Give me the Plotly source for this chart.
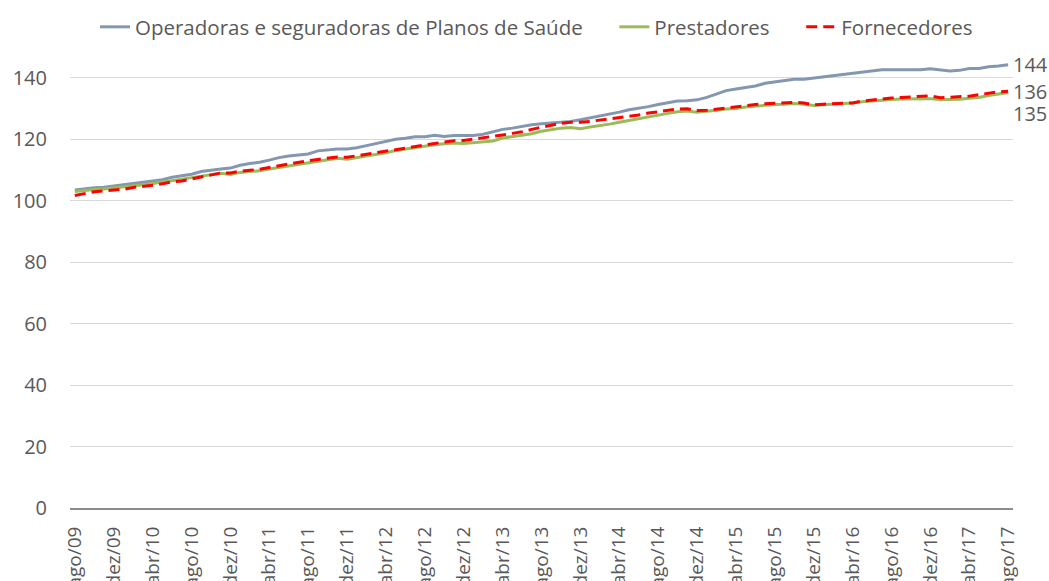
import plotly.graph_objects as go

months_pt = ["jan", "fev", "mar", "abr", "mai", "jun", "jul", "ago", "set", "out", "nov", "dez"]
categories = []
for yr in range(2009, 2018):
    for mi, m in enumerate(months_pt):
        if (yr == 2009 and mi < 7) or (yr == 2017 and mi > 7):
            continue
        categories.append(f"{m}/{str(yr)[2:]}")

tick_labels = categories[::4]

operadoras = [
    103.5, 103.9, 104.2, 104.4, 104.8, 105.1, 105.4, 105.8, 106.2, 106.8,
    107.6, 108.2, 108.6, 109.5, 110.0, 110.3, 110.6, 111.5, 112.1, 112.5,
    113.2, 114.0, 114.5, 114.8, 115.2, 116.2, 116.5, 116.8, 116.8, 117.2,
    117.9, 118.6, 119.5, 120.0, 120.3, 120.8, 120.8, 121.3, 120.9, 121.2,
    121.2, 121.2, 121.6, 122.3, 123.2, 123.6, 124.2, 124.7, 125.0, 125.2,
    125.4, 125.8, 126.3, 126.9, 127.5, 128.2, 128.8, 129.6, 130.0, 130.6,
    131.3, 131.8, 132.4, 132.5, 132.8, 133.6, 134.8, 135.8, 136.3, 136.9,
    137.3, 138.2, 138.6, 139.2, 139.5, 139.5, 139.9, 140.2, 140.7, 141.0,
    141.4, 141.8, 142.1, 142.6, 142.6, 142.6, 142.6, 142.6, 142.9, 142.6,
    142.2, 142.4, 143.0, 143.0, 143.6, 143.8, 144.2,
]

prestadores = [
    103.0, 103.4, 103.6, 103.8, 104.1, 104.5, 104.8, 105.2, 105.6, 106.0,
    106.5, 107.0, 107.5, 108.0, 108.5, 108.9, 108.5, 109.2, 109.5, 109.7,
    110.3, 110.8, 111.3, 111.7, 112.1, 112.6, 113.1, 113.8, 113.5, 114.0,
    114.6, 115.2, 115.6, 116.3, 116.8, 117.4, 117.8, 118.2, 118.5, 118.8,
    118.6, 118.8, 119.1, 119.4, 120.4, 120.8, 121.4, 121.8, 122.6, 123.2,
    123.6, 123.8, 123.4, 124.0, 124.4, 124.9, 125.5, 126.1, 126.7, 127.4,
    128.0, 128.4, 128.9, 129.2, 128.8, 129.0, 129.4, 129.8, 130.0, 130.5,
    130.8, 131.0, 131.3, 131.4, 131.6, 131.4, 131.0, 131.2, 131.4, 131.5,
    131.8, 132.2, 132.5, 132.8, 132.9, 133.1, 133.2, 133.3, 133.2, 132.8,
    132.8, 133.0, 133.3, 133.6, 134.2, 134.8, 135.2,
]

fornecedores = [
    101.7, 102.4, 102.9, 103.2, 103.5, 103.7, 104.3, 104.6, 105.0, 105.5,
    106.1, 106.4, 107.0, 107.6, 108.3, 109.0, 109.0, 109.6, 109.9, 110.2,
    110.8, 111.4, 111.9, 112.4, 113.0, 113.4, 113.8, 114.2, 114.1, 114.6,
    115.1, 115.6, 116.1, 116.8, 117.3, 117.8, 118.1, 118.6, 119.1, 119.5,
    119.6, 120.0, 120.4, 120.9, 121.4, 121.9, 122.4, 123.2, 123.9, 124.6,
    125.2, 125.5, 125.5, 125.8, 126.2, 126.7, 127.1, 127.5, 127.9, 128.5,
    129.0, 129.4, 129.8, 129.9, 129.3, 129.4, 129.8, 130.2, 130.6, 131.0,
    131.3, 131.5, 131.7, 131.9, 132.0, 131.8, 131.2, 131.4, 131.5, 131.6,
    131.8, 132.4, 132.8, 133.2, 133.4, 133.6, 133.8, 134.0, 134.1, 133.5,
    133.6, 133.8, 134.0, 134.5, 135.0, 135.4, 135.6,
]

series_names = ["Operadoras e seguradoras de Planos de Saúde", "Prestadores", "Fornecedores"]
end_labels = ["144", "136", "135"]
y_ticks = [0, 20, 40, 60, 80, 100, 120, 140]

FONT = "Open Sans"
TXT = "#595959"
FS = 20
NB = "\u00a0"

fig = go.Figure()
fig.add_trace(go.Scatter(x=categories, y=operadoras, mode="lines",
                         name=series_names[0] + NB * 5,
                         line=dict(color="#8497B0", width=3)))
fig.add_trace(go.Scatter(x=categories, y=prestadores, mode="lines",
                         name=series_names[1] + NB * 5,
                         line=dict(color="#9BBB59", width=3)))
fig.add_trace(go.Scatter(x=categories, y=fornecedores, mode="lines",
                         name=series_names[2],
                         line=dict(color="#FF0000", width=3, dash="11px,6px")))

last = categories[-1]
for val, txt, ys in [(operadoras[-1], end_labels[0], 0),
                     (fornecedores[-1], end_labels[1], 0),
                     (prestadores[-1], end_labels[2], -21)]:
    fig.add_annotation(x=last, y=val, text=txt, xanchor="left", yanchor="middle",
                       showarrow=False, xshift=3, yshift=ys,
                       font=dict(family=FONT, size=FS, color=TXT))

fig.update_layout(
    width=1049, height=581,
    margin=dict(l=70, r=36, t=47, b=73, autoexpand=False),
    paper_bgcolor="white", plot_bgcolor="white",
    font=dict(family=FONT, size=FS, color=TXT),
    showlegend=True,
    legend=dict(orientation="h", x=0.0265, xanchor="left", y=1.0434, yanchor="middle",
                font=dict(family=FONT, size=20.5, color=TXT),
                itemwidth=30, tracegroupgap=0),
    xaxis=dict(type="category", range=[-0.5, len(categories) - 0.5],
               tickmode="array", tickvals=tick_labels,
               ticktext=tick_labels, tickangle=-90, showgrid=False,
               showline=True, linecolor="#8c8c8c", linewidth=2,
               ticks="", automargin=False, ticklabelstandoff=9,
               tickfont=dict(family=FONT, size=19, color=TXT)),
    yaxis=dict(range=[0, 150], tickvals=y_ticks, showgrid=True,
               gridcolor="#d9d9d9", gridwidth=1, zeroline=False,
               showline=False, ticks="", automargin=False,
               ticklabelstandoff=22,
               tickfont=dict(family=FONT, size=FS, color=TXT)),
)

fig.write_html("out.html",
               config={"displayModeBar": False},
               post_script="document.body.style.margin='0';document.body.style.overflow='hidden';")
